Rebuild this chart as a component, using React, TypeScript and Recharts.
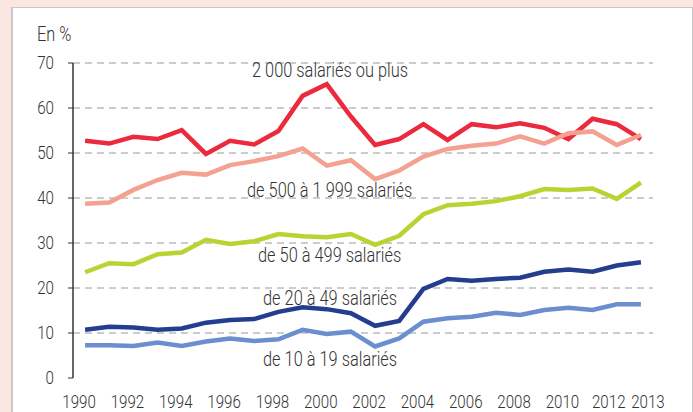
import React from "react";
import { LineChart, Line, XAxis, YAxis, CartesianGrid } from "recharts";

const years = [
  1990, 1991, 1992, 1993, 1994, 1995, 1996, 1997, 1998, 1999, 2000, 2001,
  2002, 2003, 2004, 2005, 2006, 2007, 2008, 2009, 2010, 2011, 2012, 2013,
];
const s2000plus = [
  52.7, 52.1, 53.6, 53.1, 55.1, 49.8, 52.7, 51.9, 54.9, 62.7, 65.3, 58.1,
  51.8, 53.1, 56.4, 52.9, 56.4, 55.7, 56.6, 55.6, 53.1, 57.6, 56.4, 53.1,
];
const s500to1999 = [
  38.7, 39.0, 41.8, 44.0, 45.6, 45.2, 47.3, 48.2, 49.3, 51.0, 47.2, 48.4,
  44.2, 46.1, 49.2, 50.9, 51.6, 52.1, 53.7, 52.1, 54.4, 54.8, 51.8, 54.0,
];
const s50to499 = [
  23.5, 25.5, 25.3, 27.5, 27.9, 30.7, 29.8, 30.4, 32.0, 31.5, 31.3, 32.0,
  29.6, 31.6, 36.4, 38.4, 38.7, 39.3, 40.4, 42.0, 41.8, 42.1, 39.8, 43.4,
];
const s20to49 = [
  10.7, 11.4, 11.2, 10.7, 11.0, 12.3, 12.9, 13.1, 14.7, 15.7, 15.3, 14.4,
  11.6, 12.7, 19.8, 22.0, 21.6, 22.0, 22.3, 23.6, 24.1, 23.6, 25.0, 25.7,
];
const s10to19 = [
  7.3, 7.3, 7.1, 7.9, 7.1, 8.1, 8.8, 8.2, 8.6, 10.7, 9.8, 10.3,
  7.0, 8.8, 12.5, 13.3, 13.6, 14.5, 14.0, 15.1, 15.6, 15.1, 16.4, 16.4,
];
const xLabelYears = [1990, 1992, 1994, 1996, 1998, 2000, 2002, 2004, 2006, 2008, 2010, 2012, 2013];
const yTicks = [0, 10, 20, 30, 40, 50, 60, 70];
const boundaryTicks = [...years.map((y) => y - 0.5), 2013.5];

const data = years.map((year, i) => ({
  year,
  a: s2000plus[i],
  b: s500to1999[i],
  c: s50to499[i],
  d: s20to49[i],
  e: s10to19[i],
}));

const FONT = "Roboto, 'Noto Sans', sans-serif";
const TEXT = "#333333";
const SX = 0.84;

const CText = ({ x, y, anchor = "start", dy, size = 18, children }: any) => (
  <text
    transform={`translate(${x},${y}) scale(${SX},1)`}
    x={0}
    y={0}
    dy={dy}
    textAnchor={anchor}
    fill={TEXT}
    fontFamily={FONT}
    fontWeight={300}
    fontSize={size}
  >
    {children}
  </text>
);

const labelShift: Record<number, number> = { 2012: -8, 2013: 7 };

const XLabelTick = (props: any) => {
  const { x, y, payload } = props;
  const dx = labelShift[payload.value] ?? -6;
  return (
    <CText x={x + dx} y={y} dy="0.71em" anchor="middle">
      {payload.value}
    </CText>
  );
};

const YLabelTick = (props: any) => {
  const { x, y, payload } = props;
  return (
    <CText x={x} y={y} dy="0.355em" anchor="end">
      {payload.value}
    </CText>
  );
};

const annotations = [
  { text: "2 000 salariés ou plus", x: 252, y: 77 },
  { text: "de 500 à 1 999 salariés", x: 247, y: 197 },
  { text: "de 50 à 499 salariés", x: 258, y: 262 },
  { text: "de 20 à 49 salariés", x: 263, y: 305 },
  { text: "de 10 à 19 salariés", x: 263, y: 366 },
];

export default function App() {
  return (
    <div style={{ position: "absolute", left: 0, top: 0, width: 693, height: 412, background: "#fbe7e1", overflow: "hidden" }}>
      <div style={{ position: "absolute", left: 11, top: 7, width: 679, height: 430, background: "#ffffff", border: "1px solid #c8c8c8", borderLeftWidth: 2 }} />
      <div style={{ position: "absolute", left: 0, top: 0 }}>
        <LineChart width={693} height={412} data={data} margin={{ top: 63, right: 40, bottom: 0, left: 13 }}>
          <CartesianGrid vertical={false} stroke="#9a9a9a" strokeDasharray="7 5" horizontalValues={yTicks.filter((v) => v > 0)} />
          <XAxis
            xAxisId="marks"
            dataKey="year"
            type="number"
            domain={[1989.5, 2013.5]}
            ticks={boundaryTicks}
            interval={0}
            tick={false}
            tickSize={5}
            height={0}
            stroke="#333"
            axisLine={{ stroke: "#333", strokeWidth: 1.5 }}
          />
          <XAxis
            xAxisId="labels"
            dataKey="year"
            type="number"
            domain={[1989.5, 2013.5]}
            ticks={xLabelYears}
            interval={0}
            tickLine={false}
            axisLine={false}
            tickSize={0}
            tickMargin={17}
            height={34}
            tick={<XLabelTick />}
          />
          <YAxis
            domain={[0, 70]}
            ticks={yTicks}
            interval={0}
            width={60}
            tickSize={5}
            tickMargin={14}
            stroke="#333"
            axisLine={{ stroke: "#333", strokeWidth: 1.5 }}
            tick={<YLabelTick />}
          />
          <Line xAxisId="marks" dataKey="a" stroke="#ec2a3e" strokeWidth={4.5} dot={false} isAnimationActive={false} strokeLinejoin="miter" />
          <Line xAxisId="marks" dataKey="b" stroke="#f5a191" strokeWidth={4.5} dot={false} isAnimationActive={false} strokeLinejoin="miter" />
          <Line xAxisId="marks" dataKey="c" stroke="#b8d433" strokeWidth={4.5} dot={false} isAnimationActive={false} strokeLinejoin="miter" />
          <Line xAxisId="marks" dataKey="d" stroke="#253d8f" strokeWidth={4.5} dot={false} isAnimationActive={false} strokeLinejoin="miter" />
          <Line xAxisId="marks" dataKey="e" stroke="#6b8ed0" strokeWidth={4.5} dot={false} isAnimationActive={false} strokeLinejoin="miter" />
        </LineChart>
      </div>
      <svg width={693} height={412} style={{ position: "absolute", left: 0, top: 0, pointerEvents: "none" }}>
        <CText x={37} y={41} size={19.5}>En %</CText>
        {annotations.map((a) => (
          <CText key={a.text} x={a.x} y={a.y} size={19.5}>
            {a.text}
          </CText>
        ))}
      </svg>
    </div>
  );
}
